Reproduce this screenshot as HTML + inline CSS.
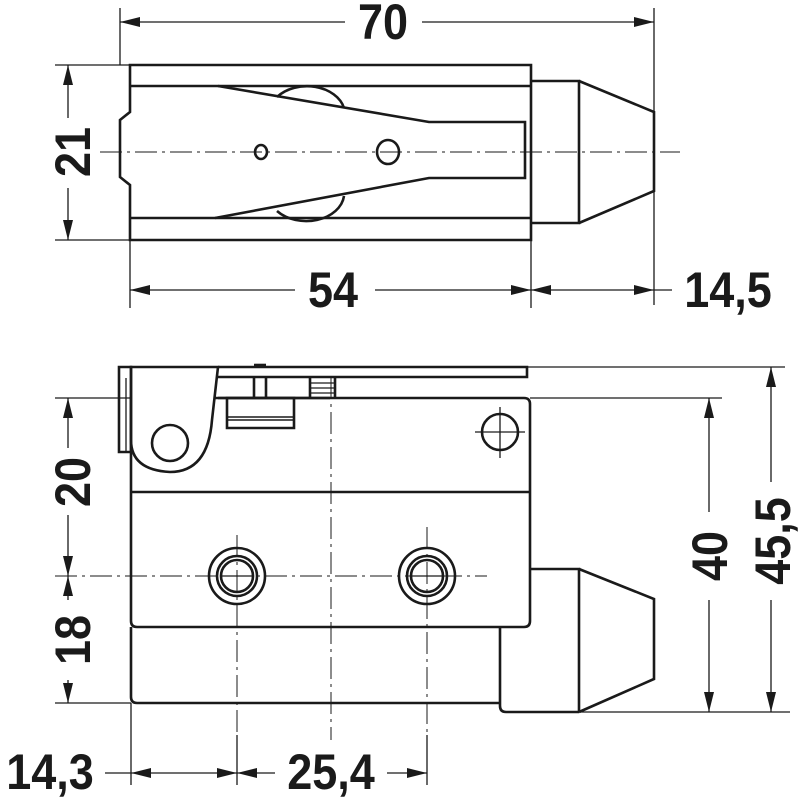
<!DOCTYPE html>
<html><head><meta charset="utf-8"><style>
html,body{margin:0;padding:0;background:#fff;}
svg{display:block}
text{font-family:"Liberation Sans",sans-serif;font-weight:bold;font-size:50px;fill:#1a1a1a}
</style></head><body>
<svg width="800" height="799" viewBox="0 0 800 799" xmlns="http://www.w3.org/2000/svg">
<defs>
<marker id="a" viewBox="0 0 20 10" refX="20" refY="5" markerWidth="20" markerHeight="10" markerUnits="userSpaceOnUse" orient="auto-start-reverse"><path d="M0,0 L20,5 L0,10 Z" fill="#1a1a1a"/></marker>
</defs>
<g fill="none" stroke="#1a1a1a" stroke-width="1.3">
<!-- top view extension lines -->
<line x1="120" y1="8" x2="120" y2="65"/>
<line x1="654" y1="8" x2="654" y2="305"/>
<line x1="55" y1="65" x2="130" y2="65"/>
<line x1="55" y1="240" x2="130" y2="240"/>
<line x1="130" y1="240" x2="130" y2="308"/>
<line x1="531" y1="223" x2="531" y2="308"/>
<!-- dims top -->
<line x1="120" y1="22" x2="345" y2="22" marker-start="url(#a)"/>
<line x1="422" y1="22" x2="654" y2="22" marker-end="url(#a)"/>
<line x1="68" y1="65" x2="68" y2="118" marker-start="url(#a)"/>
<line x1="68" y1="188" x2="68" y2="240" marker-end="url(#a)"/>
<line x1="130" y1="290" x2="295" y2="290" marker-start="url(#a)"/>
<line x1="375" y1="290" x2="531" y2="290" marker-end="url(#a)"/>
<line x1="531" y1="290" x2="654" y2="290" marker-start="url(#a)" marker-end="url(#a)"/>
<line x1="654" y1="290" x2="672" y2="290"/>
<!-- centerline top -->
<line x1="100" y1="152" x2="680" y2="152" stroke-width="1" stroke-dasharray="22,5,3,5"/>
</g>
<g fill="none" stroke="#1a1a1a" stroke-width="2.6" stroke-linejoin="miter">
<!-- top body -->
<path d="M130,65 L531,65 L531,240 L130,240 L130,185 L120,177 L120,120 L130,112 Z"/>
<line x1="130" y1="86" x2="531" y2="86"/>
<line x1="130" y1="218" x2="531" y2="218"/>
<path d="M218,86 L429,122 L525,122 L525,178 L429,178 L215,218"/>
<path d="M277,97 A38,28 0 0 1 344,108"/>
<path d="M277,211 A38,28 0 0 0 344,196"/>
<ellipse cx="261" cy="152" rx="6" ry="7"/>
<ellipse cx="388" cy="152" rx="11" ry="12"/>
<path d="M531,81 L579,81 L579,223 L531,223"/>
<path d="M579,81 L654,112 L654,191 L579,223"/>
</g>
<!-- bottom view -->
<g fill="none" stroke="#1a1a1a" stroke-width="1.3">
<line x1="527" y1="367" x2="785" y2="367"/>
<line x1="55" y1="398" x2="131" y2="398"/>
<line x1="530" y1="398" x2="722" y2="398"/>
<line x1="579" y1="712" x2="790" y2="712"/>
<line x1="55" y1="703" x2="131" y2="703"/>
<line x1="131" y1="703" x2="131" y2="785"/>
<line x1="237" y1="735" x2="237" y2="785"/>
<line x1="427" y1="735" x2="427" y2="785"/>
<line x1="709" y1="398" x2="709" y2="512" marker-start="url(#a)"/>
<line x1="709" y1="600" x2="709" y2="712" marker-end="url(#a)"/>
<line x1="771" y1="367" x2="771" y2="482" marker-start="url(#a)"/>
<line x1="771" y1="600" x2="771" y2="712" marker-end="url(#a)"/>
<line x1="68" y1="398" x2="68" y2="448" marker-start="url(#a)"/>
<line x1="68" y1="515" x2="68" y2="576" marker-end="url(#a)"/>
<line x1="68" y1="576" x2="68" y2="600" marker-start="url(#a)"/>
<line x1="68" y1="680" x2="68" y2="703" marker-end="url(#a)"/>
<line x1="105" y1="773" x2="131" y2="773"/>
<line x1="131" y1="773" x2="237" y2="773" marker-start="url(#a)" marker-end="url(#a)"/>
<line x1="237" y1="773" x2="275" y2="773" marker-start="url(#a)"/>
<line x1="387" y1="773" x2="427" y2="773" marker-end="url(#a)"/>
<!-- centerlines -->
<line x1="55" y1="576" x2="487" y2="576" stroke-width="1" stroke-dasharray="22,5,3,5"/>
<line x1="331" y1="377" x2="331" y2="740" stroke-width="1" stroke-dasharray="22,5,3,5"/>
<line x1="237" y1="535" x2="237" y2="765" stroke-width="1" stroke-dasharray="22,5,3,5"/>
<line x1="427" y1="527" x2="427" y2="765" stroke-width="1" stroke-dasharray="22,5,3,5"/>
<line x1="475" y1="432" x2="525" y2="432"/>
<line x1="500" y1="407" x2="500" y2="458"/>
<line x1="221" y1="576" x2="253" y2="576"/>
<line x1="411" y1="576" x2="443" y2="576"/>
</g>
<g fill="none" stroke="#1a1a1a" stroke-width="2.6">
<path d="M131,398 L524,398 Q530,398 530,404 L530,621 Q530,627 524,627 L137,627 Q131,627 131,621 Z" fill="none"/>
<line x1="131" y1="492" x2="530" y2="492"/>
<path d="M131,627 L131,697 Q131,703 137,703 L500,703"/>
<path d="M500,627 L500,706 Q500,712 506,712 L579,712"/>
<path d="M530,569 L579,569 L579,712"/>
<path d="M579,569 L654,599 L654,679 L579,712"/>
<!-- lever -->
<path d="M218,367 L527,367 L527,377 L218,377"/>
<path d="M131,367 L218,367 L212,420 Q208,472 170,472 Q131,470 131,440 Z" fill="#fff"/>
<path d="M119,367 L131,367 L131,452 L119,452 Z"/>
<line x1="126" y1="378" x2="126" y2="452" stroke-width="1.3"/>
<circle cx="170" cy="443" r="18"/>
<line x1="218" y1="398" x2="330" y2="398"/>
<path d="M227,398 L294,398 L294,428 L227,428 Z"/>
<line x1="227" y1="417" x2="294" y2="417" stroke-width="1.5"/>
<line x1="227" y1="420" x2="294" y2="420" stroke-width="1.5"/>
<path d="M254,377 L254,398 M266,377 L266,398"/>
<line x1="254" y1="365" x2="266" y2="365"/>
<path d="M310,377 L310,398 M335,377 L335,398"/>
<line x1="310" y1="383" x2="335" y2="383" stroke-width="1.3"/>
<line x1="310" y1="388" x2="335" y2="388" stroke-width="1.3"/>
<line x1="310" y1="393" x2="335" y2="393" stroke-width="1.3"/>
<circle cx="500" cy="432" r="18"/>
<circle cx="237" cy="576" r="28"/>
<circle cx="237" cy="576" r="20"/>
<circle cx="237" cy="576" r="16"/>
<circle cx="427" cy="576" r="28"/>
<circle cx="427" cy="576" r="20"/>
<circle cx="427" cy="576" r="16"/>
</g>
<!-- labels -->
<g>
<text x="383" y="39" text-anchor="middle" transform="translate(383 0) scale(0.9 1) translate(-383 0)">70</text>
<text x="0" y="0" text-anchor="middle" transform="translate(90 152) rotate(-90) scale(0.9 1)">21</text>
<text x="333" y="307" text-anchor="middle" transform="translate(333 0) scale(0.9 1) translate(-333 0)">54</text>
<text x="728" y="307" text-anchor="middle" transform="translate(728 0) scale(0.9 1) translate(-728 0)">14,5</text>
<text x="0" y="0" text-anchor="middle" transform="translate(90 482) rotate(-90) scale(0.9 1)">20</text>
<text x="0" y="0" text-anchor="middle" transform="translate(90 640) rotate(-90) scale(0.9 1)">18</text>
<text x="50" y="789" text-anchor="middle" transform="translate(50 0) scale(0.9 1) translate(-50 0)">14,3</text>
<text x="331" y="789" text-anchor="middle" transform="translate(331 0) scale(0.9 1) translate(-331 0)">25,4</text>
<text x="0" y="0" text-anchor="middle" transform="translate(727 556) rotate(-90) scale(0.9 1)">40</text>
<text x="0" y="0" text-anchor="middle" transform="translate(790 541) rotate(-90) scale(0.9 1)">45,5</text>
</g>
</svg>
</body></html>
